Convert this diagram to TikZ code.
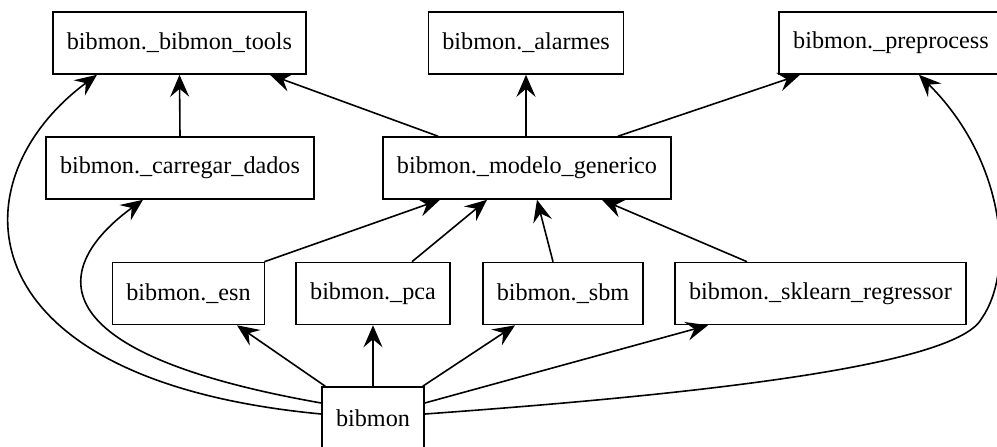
\documentclass[tikz,border=0pt]{standalone}
\usepackage{fontspec}
\setmainfont{Liberation Serif}
\usetikzlibrary{arrows.meta}

\begin{document}
\begin{tikzpicture}[x=1pt, y=-1pt, >={Stealth[length=22pt, width=19pt, inset=8pt]}, every node/.style={font=\fontsize{24.2}{29}\selectfont}]
  \tikzset{module/.style={draw, line width=1.6pt, minimum height=62pt, inner xsep=14pt}}
  \tikzset{dep/.style={->, line width=1.6pt}}
  \useasboundingbox (0,0) rectangle (997,447);

  % top row
  \node[module] (tools) at (179.5,43) {bibmon.\_bibmon\_tools};
  \node[module] (alarmes) at (526,43) {bibmon.\_alarmes};
  \node[module] (preprocess) at (891,43) {bibmon.\_preprocess};

  % middle row
  \node[module] (carregar) at (180,168) {bibmon.\_carregar\_dados};
  \node[module] (modelo) at (527,168) {bibmon.\_modelo\_generico};

  % models
  \node[module] (esn) at (188.5,293.5) {bibmon.\_esn};
  \node[module] (pca) at (373,293.5) {bibmon.\_pca};
  \node[module] (sbm) at (563,293.5) {bibmon.\_sbm};
  \node[module] (sklearn) at (820.5,293.5) {bibmon.\_sklearn\_regressor};

  \node[module] (bibmon) at (373,418) {bibmon};

  \draw[dep] (carregar.north) -- (tools.south);
  \draw[dep] ([xshift=-89pt]modelo.north) -- ([xshift=90.5pt]tools.south);
  \draw[dep] ([xshift=-1pt]modelo.north) -- (alarmes.south);
  \draw[dep] ([xshift=91pt]modelo.north) -- ([xshift=-91pt]preprocess.south);

  \draw[dep] ([xshift=-1pt]esn.north east) -- ([xshift=-87pt]modelo.south);
  \draw[dep] ([xshift=39pt]pca.north) -- ([xshift=-40pt]modelo.south);
  \draw[dep] ([xshift=-10pt]sbm.north) -- ([xshift=10pt]modelo.south);
  \draw[dep] ([xshift=-73.5pt]sklearn.north) -- ([xshift=75pt]modelo.south);

  \draw[dep] ([xshift=4pt]bibmon.north west) -- ([xshift=48.5pt]esn.south);
  \draw[dep] (bibmon.north) -- (pca.south);
  \draw[dep] ([xshift=-2pt]bibmon.north east) -- ([xshift=-48pt]sbm.south);
  \draw[dep] ([yshift=15pt]bibmon.east) -- ([xshift=-112.5pt]sklearn.south);

  % long curved ones
  \draw[dep] ([yshift=4pt]bibmon.west) .. controls (-40,380) and (-45,180) .. ([xshift=-82.5pt]tools.south);
  \draw[dep] ([yshift=15pt]bibmon.west) .. controls (20,350) and (60,260) .. ([xshift=-37pt]carregar.south);
  \draw[dep] ([yshift=4pt]bibmon.east) .. controls (760,390) and (960,360) .. (982,318)
    .. controls (1015,270) and (1005,160) .. ([xshift=28pt]preprocess.south);
\end{tikzpicture}
\end{document}
